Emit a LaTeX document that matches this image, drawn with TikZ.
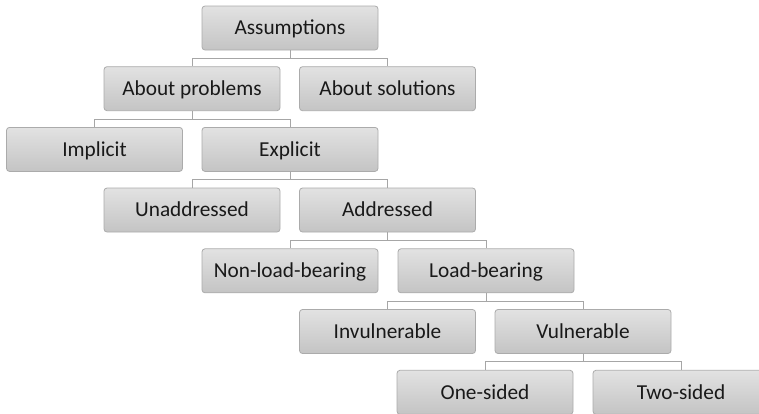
\documentclass[tikz,border=0pt]{standalone}
\usepackage{fontspec}
\setmainfont{Carlito}
\usetikzlibrary{calc}
\definecolor{boxtop}{HTML}{E2E2E2}
\definecolor{boxbot}{HTML}{C4C4C4}
\definecolor{boxline}{HTML}{ABABAB}
\definecolor{connline}{HTML}{A6A6A6}
\begin{document}
\begin{tikzpicture}[x=1pt,y=-1pt,
  box/.style={draw=boxline, line width=0.8pt, rounded corners=3pt, top color=boxtop, bottom color=boxbot,
    minimum width=176pt, minimum height=44pt, inner sep=0pt, text height=13.7pt, text depth=0pt,
    font=\fontsize{21.3}{24}\selectfont, text=black!90},
  conn/.style={draw=connline, line width=1pt},
  tree/.style={to path={|- ($(\tikztostart)!.5!(\tikztotarget)$) -| (\tikztotarget)}}]
\useasboundingbox (0,0) rectangle (759,413);
\clip (0,0) rectangle (759,413);
\node[box] (ass) at (290,28) {Assumptions};
\node[box] (ap) at (192,88.7) {About problems};
\node[box] (as) at (387.5,88.7) {About solutions};
\node[box] (imp) at (94.5,149.4) {Implicit};
\node[box] (exp) at (290,149.4) {Explicit};
\node[box] (una) at (192,210) {Unaddressed};
\node[box] (add) at (387.5,210) {Addressed};
\node[box] (nlb) at (290,270.8) {Non-load-bearing};
\node[box] (lb) at (486,270.8) {Load-bearing};
\node[box] (inv) at (387.5,331.5) {Invulnerable};
\node[box] (vul) at (583,331.5) {Vulnerable};
\node[box] (one) at (485,392.3) {One-sided};
\node[box] (two) at (681,392.3) {Two-sided};
\begin{scope}[conn]
\draw (ass.south) to[tree] (ap.north);
\draw (ass.south) to[tree] (as.north);
\draw (ap.south) to[tree] (imp.north);
\draw (ap.south) to[tree] (exp.north);
\draw (exp.south) to[tree] (una.north);
\draw (exp.south) to[tree] (add.north);
\draw (add.south) to[tree] (nlb.north);
\draw (add.south) to[tree] (lb.north);
\draw (lb.south) to[tree] (inv.north);
\draw (lb.south) to[tree] (vul.north);
\draw (vul.south) to[tree] (one.north);
\draw (vul.south) to[tree] (two.north);
\end{scope}
\end{tikzpicture}
\end{document}
